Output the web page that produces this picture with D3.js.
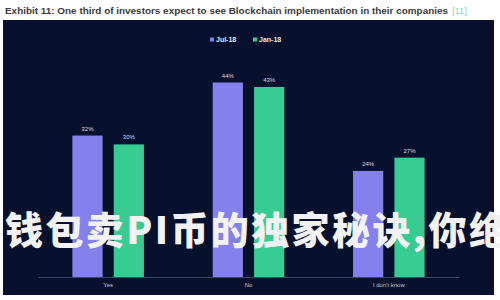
<!DOCTYPE html>
<html>
<head>
<meta charset="utf-8">
<script src="https://cdn.jsdelivr.net/npm/d3@7"></script>
<style>
  body { margin: 0; background: #fff; }
  svg { display: block; }
</style>
</head>
<body>
<svg width="500" height="300"></svg>
<script>
// chart data
const categories = ["Yes", "No", "I don't know"];
const seriesNames = ["Jul-18", "Jan-18"];
const jul18 = [32, 44, 24];
const jan18 = [30, 43, 27];
const seriesColors = ["#8480ee", "#36cc92"];

const svg = d3.select("svg");

// title above the dark panel
svg.append("text")
  .attr("x", 5).attr("y", 14)
  .attr("font-family", "Liberation Sans, Arial, sans-serif")
  .attr("font-weight", "bold")
  .attr("font-size", 9.4)
  .attr("textLength", 443)
  .attr("lengthAdjust", "spacingAndGlyphs")
  .attr("fill", "#3a3a3a")
  .text("Exhibit 11: One third of investors expect to see Blockchain implementation in their companies");
svg.append("text")
  .attr("x", 452).attr("y", 14)
  .attr("font-family", "Liberation Sans, Arial, sans-serif")
  .attr("font-size", 9.4)
  .attr("fill", "#86d6c4")
  .text("[11]");

// dark panel
svg.append("rect")
  .attr("x", 3).attr("y", 20)
  .attr("width", 491).attr("height", 275)
  .attr("fill", "#07112e");

// scales
const x0 = d3.scaleBand()
  .domain(categories)
  .range([38, 459])
  .paddingInner(0.49)
  .paddingOuter(0.245);

const x1 = d3.scaleBand()
  .domain(seriesNames)
  .range([0, x0.bandwidth()])
  .paddingInner(0.27);

const y = d3.scaleLinear().domain([0, 50]).range([277, 56]);

const color = d3.scaleOrdinal().domain(seriesNames).range(seriesColors);

// rows for drawing
const rows = categories.map((c, i) => ({
  cat: c,
  vals: [{s: seriesNames[0], v: jul18[i]}, {s: seriesNames[1], v: jan18[i]}]
}));

const groups = svg.selectAll(".grp")
  .data(rows)
  .enter()
  .append("g")
  .attr("class", "grp")
  .attr("transform", d => `translate(${x0(d.cat)},0)`);

groups.selectAll("rect")
  .data(d => d.vals)
  .enter()
  .append("rect")
  .attr("x", d => x1(d.s))
  .attr("y", d => y(d.v))
  .attr("width", x1.bandwidth())
  .attr("height", d => y(0) - y(d.v))
  .attr("fill", d => color(d.s));

groups.selectAll(".val")
  .data(d => d.vals)
  .enter()
  .append("text")
  .attr("class", "val")
  .attr("x", d => x1(d.s) + x1.bandwidth() / 2)
  .attr("y", d => y(d.v) - 5)
  .attr("text-anchor", "middle")
  .attr("font-family", "Liberation Sans, Arial, sans-serif")
  .attr("font-size", 6)
  .attr("fill", "#d8dbe8")
  .text(d => d.v + "%");

// x axis
const xAxis = svg.append("g")
  .attr("transform", `translate(0,${y(0)})`)
  .call(d3.axisBottom(x0).tickSize(0).tickPadding(6));
xAxis.select(".domain").attr("stroke", "#4a5370").attr("stroke-width", 0.8);
xAxis.selectAll("text")
  .attr("font-family", "Liberation Sans, Arial, sans-serif")
  .attr("font-size", 6)
  .attr("fill", "#c4c8d6");

// legend
const legend = svg.append("g").attr("transform", "translate(210,40)");
const lx = [0, 43];
seriesNames.forEach((s, i) => {
  const g = legend.append("g").attr("transform", `translate(${lx[i]},0)`);
  g.append("rect")
    .attr("x", 0).attr("y", -2.5)
    .attr("width", 4).attr("height", 4)
    .attr("fill", color(s));
  g.append("text")
    .attr("x", 6).attr("y", 2.4)
    .attr("font-family", "Liberation Sans, Arial, sans-serif")
    .attr("font-weight", "bold")
    .attr("font-size", 7)
    .attr("fill", "#e6e8f0")
    .text(s);
});

// overlay caption across the chart
svg.append("text")
  .attr("x", 5).attr("y", 244)
  .attr("font-family", "Noto Sans CJK SC, sans-serif")
  .attr("font-weight", "900")
  .attr("font-size", 38)
  .attr("letter-spacing", 2.4)
  .attr("fill", "#f2f2f2")
  .text("钱包卖PI币的独家秘诀,你绝");
</script>
</body>
</html>
